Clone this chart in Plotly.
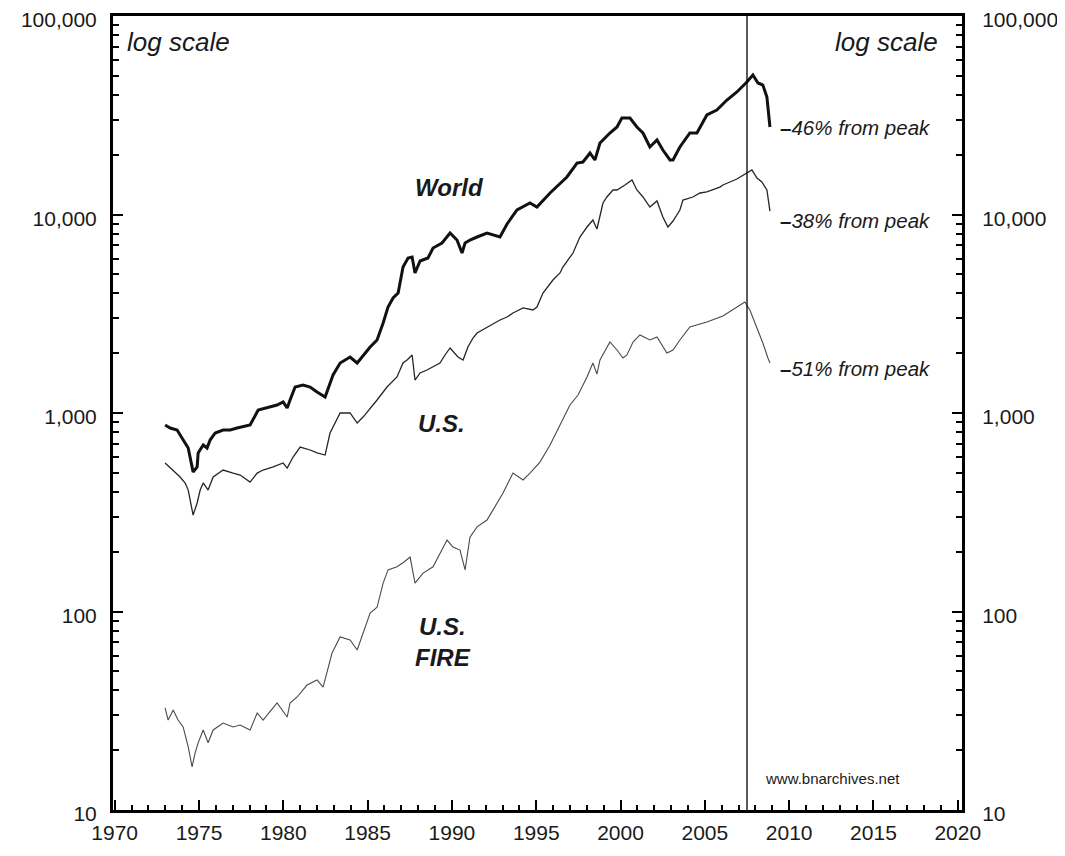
import numpy as np
import plotly.graph_objects as go

# ---------------- data ----------------
world_years = [1972.99, 1973.29, 1973.70, 1974.06, 1974.36, 1974.59, 1974.65, 1974.89, 1974.95, 1975.25,
               1975.48, 1975.66, 1975.96, 1976.43, 1976.85, 1977.26, 1978.03, 1978.51, 1978.92, 1979.63,
               1979.99, 1980.23, 1980.40, 1980.70, 1981.17, 1981.59, 1982.00, 1982.48, 1982.95, 1983.37,
               1983.96, 1984.38, 1984.67, 1985.15, 1985.56, 1985.92, 1986.21, 1986.51, 1986.81, 1987.10,
               1987.40, 1987.64, 1987.81, 1988.11, 1988.58, 1988.88, 1989.41, 1989.89, 1990.30, 1990.60,
               1990.78, 1991.07, 1991.49, 1992.08, 1992.85, 1993.27, 1993.86, 1994.63, 1995.04, 1995.82,
               1996.82, 1997.42, 1997.77, 1998.19, 1998.48, 1998.78, 1999.37, 1999.79, 2000.08, 2000.56,
               2000.97, 2001.33, 2001.74, 2002.16, 2002.51, 2002.93, 2003.11, 2003.52, 2004.11, 2004.53,
               2005.12, 2005.71, 2006.31, 2006.90, 2007.49, 2007.85, 2008.15, 2008.44, 2008.68, 2008.86]
world_values = [870, 840, 821, 731, 666, 535, 504, 535, 629, 690,
                666, 731, 793, 821, 821, 840, 870, 1035, 1060, 1097,
                1136, 1060, 1163, 1352, 1384, 1352, 1276, 1204, 1554, 1786,
                1915, 1786, 1915, 2150, 2332, 2841, 3420, 3796, 4022, 5438,
                6037, 6107, 5074, 5830, 6037, 6780, 7185, 8070, 7437, 6397,
                7185, 7437, 7703, 8070, 7703, 8958, 10536, 11427, 10909, 12834,
                15450, 18170, 18386, 20410, 18820, 22920, 25740, 27590, 30630, 30630,
                27590, 25740, 21880, 23730, 21130, 18820, 18820, 21880, 25740, 25740,
                31720, 33600, 37740, 41410, 46500, 50450, 45970, 44910, 39070, 27590]

us_years = [1972.99, 1973.47, 1973.88, 1974.18, 1974.36, 1974.59, 1974.65, 1974.89, 1975.07, 1975.25,
            1975.54, 1975.84, 1976.43, 1977.02, 1977.44, 1978.03, 1978.45, 1978.80, 1979.40, 1979.99,
            1980.23, 1980.58, 1981.00, 1981.59, 1982.00, 1982.48, 1982.77, 1983.37, 1983.96, 1984.38,
            1984.73, 1985.56, 1986.15, 1986.74, 1987.10, 1987.34, 1987.64, 1987.81, 1988.11, 1988.52,
            1988.88, 1989.29, 1989.59, 1989.89, 1990.36, 1990.66, 1990.95, 1991.25, 1991.49, 1992.08,
            1992.85, 1993.27, 1993.62, 1994.22, 1994.81, 1995.04, 1995.40, 1995.99, 1996.41, 1996.58,
            1997.18, 1997.59, 1998.01, 1998.36, 1998.60, 1998.96, 1999.19, 1999.55, 1999.79, 2000.26,
            2000.68, 2000.97, 2001.33, 2001.74, 2002.16, 2002.51, 2002.81, 2003.11, 2003.52, 2003.70,
            2004.29, 2004.71, 2005.12, 2005.89, 2006.07, 2006.90, 2007.49, 2007.79, 2008.09, 2008.38,
            2008.68, 2008.86]
us_values = [560, 516, 476, 444, 409, 325, 306, 352, 409, 444,
             409, 476, 516, 498, 487, 449, 498, 516, 535, 560,
             528, 600, 674, 651, 629, 614, 793, 1000, 1000, 890,
             954, 1163, 1352, 1519, 1786, 1849, 1960, 1466, 1591, 1647,
             1705, 1786, 1960, 2126, 1915, 1849, 2150, 2387, 2529, 2712,
             2941, 3045, 3190, 3381, 3303, 3420, 4022, 4677, 5074, 5438,
             6397, 7703, 8650, 9382, 8453, 11427, 12250, 13290, 13290, 14080,
             14920, 13290, 12250, 10909, 11700, 9714, 8650, 9274, 10536, 11830,
             12250, 12834, 12985, 13750, 14080, 15090, 16190, 16760, 15270, 14580,
             13290, 10410]

fire_years = [1972.99, 1973.17, 1973.47, 1973.76, 1974.06, 1974.36, 1974.59, 1974.77, 1974.95, 1975.25,
              1975.54, 1975.84, 1976.43, 1977.02, 1977.44, 1978.03, 1978.45, 1978.80, 1979.63, 1979.93,
              1980.23, 1980.40, 1980.82, 1981.41, 1982.00, 1982.36, 1982.59, 1982.89, 1983.37, 1983.96,
              1984.38, 1984.73, 1985.15, 1985.56, 1985.92, 1986.21, 1986.74, 1987.10, 1987.52, 1987.81,
              1988.29, 1988.88, 1989.29, 1989.71, 1990.06, 1990.48, 1990.78, 1991.07, 1991.49, 1992.08,
              1992.44, 1993.03, 1993.62, 1994.22, 1994.63, 1995.22, 1995.82, 1996.41, 1997.00, 1997.48,
              1998.01, 1998.36, 1998.60, 1998.78, 1999.37, 1999.79, 2000.14, 2000.38, 2000.74, 2001.15,
              2001.74, 2002.16, 2002.75, 2003.11, 2003.52, 2004.11, 2005.12, 2006.07, 2006.90, 2007.37,
              2007.67, 2008.09, 2008.44, 2008.74, 2008.86]
fire_values = [32.7, 28.4, 31.9, 28.4, 26.2, 20.8, 16.5, 19.4, 21.8, 25.3,
               21.8, 25.3, 27.4, 26.2, 26.8, 25.3, 30.8, 28.4, 34.6, 31.9,
               29.4, 34.6, 37.1, 42.6, 45.2, 41.6, 49.0, 61.8, 74.4, 71.9,
               64.0, 77.9, 98.3, 105, 139, 162, 168, 176, 188, 139,
               156, 168, 197, 229, 211, 204, 162, 237, 267, 289,
               325, 395, 498, 460, 498, 566, 690, 870, 1097, 1232,
               1519, 1786, 1572, 1849, 2279, 2077, 1893, 1960, 2279, 2472,
               2332, 2415, 2006, 2077, 2332, 2712, 2873, 3081, 3420, 3625,
               3303, 2712, 2252, 1893, 1786]

series_names = ["World", "U.S.", "U.S.<br>FIRE"]
drawdown_labels = ["46% from peak", "38% from peak", "51% from peak"]
y_tick_values = [10, 100, 1000, 10000, 100000]
y_tick_labels = ["10", "100", "1,000", "10,000", "100,000"]
x_tick_values = list(range(1970, 2021, 5))
x_tick_labels = [str(v) for v in x_tick_values]
peak_marker_year = 2007.5
source_text = "www.bnarchives.net"

# ---------------- figure ----------------
FONT = "Liberation Sans, Arial, Helvetica, sans-serif"
minor_vals = [m * 10 ** k for k in range(1, 5) for m in range(2, 10)]

fig = go.Figure()
fig.add_trace(go.Scatter(x=fire_years, y=fire_values, mode="lines",
                         line=dict(color="#4a4a4a", width=1.1), name="U.S. FIRE"))
fig.add_trace(go.Scatter(x=us_years, y=us_values, mode="lines",
                         line=dict(color="#262626", width=1.3), name="U.S."))
fig.add_trace(go.Scatter(x=world_years, y=world_values, mode="lines", yaxis="y2",
                         line=dict(color="#111111", width=3), name="World"))

fig.add_shape(type="line", xref="x", yref="paper", x0=peak_marker_year, x1=peak_marker_year,
              y0=0, y1=1, line=dict(color="black", width=1.3))

ann = []
label_pos = [(1989.83, 13750), (1989.41, 890), (1989.47, 70)]
for name, (lx, ly) in zip(series_names, label_pos):
    ann.append(dict(x=lx, y=np.log10(ly), xref="x", yref="y", text=name, showarrow=False,
                    font=dict(family=FONT, size=24, color="#1a1a1a", weight="bold", style="italic"),
                    xanchor="center", yanchor="middle"))
ends = [(world_years[-1], world_values[-1], 0.0),
        (us_years[-1], us_values[-1], 0.05),
        (fire_years[-1], fire_values[-1], 0.03)]
for lab, (ex, ev, off) in zip(drawdown_labels, ends):
    ann.append(dict(x=ex + 0.45, y=np.log10(ev) - off, xref="x", yref="y",
                    text="<b>\u2013</b>" + lab, showarrow=False,
                    font=dict(family=FONT, size=20.5, color="#1a1a1a", style="italic"),
                    xanchor="left", yanchor="middle"))
ann.append(dict(x=0.014, y=0.967, xref="paper", yref="paper", text="log scale", showarrow=False,
                font=dict(family=FONT, size=26, color="#1a1a1a", style="italic"),
                xanchor="left", yanchor="middle"))
ann.append(dict(x=0.974, y=0.967, xref="paper", yref="paper", text="log scale", showarrow=False,
                font=dict(family=FONT, size=26, color="#1a1a1a", style="italic"),
                xanchor="right", yanchor="middle"))
ann.append(dict(x=0.847, y=0.040, xref="paper", yref="paper", text=source_text, showarrow=False,
                font=dict(family=FONT, size=15, color="#1a1a1a"),
                xanchor="center", yanchor="middle"))

yaxis_common = dict(
    type="log", range=[1, 5], tickmode="array", tickvals=y_tick_values, ticktext=y_tick_labels,
    ticks="inside", ticklen=10, tickwidth=2, tickcolor="black", automargin=False,
    showline=True, linecolor="black", linewidth=3, showgrid=False, zeroline=False,
    tickfont=dict(family=FONT, size=21, color="#1a1a1a"), ticklabeloverflow="allow",
    ticklabelshift=4,
    minor=dict(tickmode="array", tickvals=minor_vals, ticks="inside", ticklen=6,
               tickwidth=2, tickcolor="black", showgrid=False),
)

# page body has an 8px margin: shrink figure so the plot box lands where the reference has it
fig.update_layout(
    width=1049, height=840,
    margin=dict(l=105, r=95, t=8, b=38, pad=0),
    paper_bgcolor="white", plot_bgcolor="white",
    showlegend=False,
    annotations=ann,
    xaxis=dict(range=[1969.9, 2020.25], tickmode="array", tickvals=x_tick_values, ticktext=x_tick_labels,
               ticks="inside", ticklen=10, tickwidth=2, tickcolor="black", automargin=False,
               showline=True, linecolor="black", linewidth=3, mirror=True,
               showgrid=False, zeroline=False, ticklabeloverflow="allow",
               tickfont=dict(family=FONT, size=21, color="#1a1a1a"), ticklabelstandoff=2,
               minor=dict(dtick=1, ticks="inside", ticklen=5, tickwidth=2, tickcolor="black",
                          showgrid=False)),
    yaxis=dict(side="left", ticklabelstandoff=9, **yaxis_common),
    yaxis2=dict(side="right", overlaying="y", anchor="x", ticklabelstandoff=13, **yaxis_common),
)

fig.write_html("out.html")
